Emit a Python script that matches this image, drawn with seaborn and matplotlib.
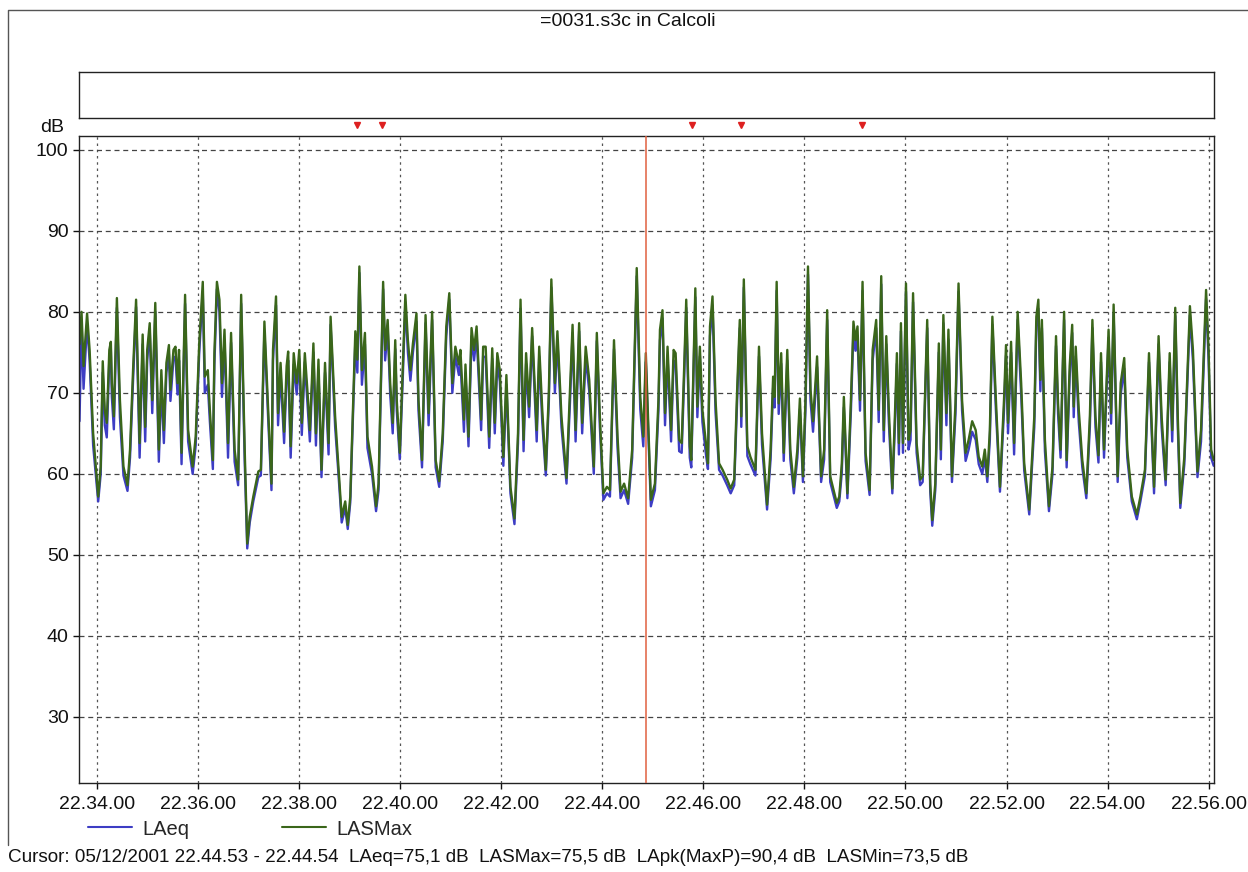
import matplotlib
matplotlib.use("Agg")
import matplotlib.pyplot as plt
import numpy as np
import pandas as pd
import seaborn as sns
from matplotlib.lines import Line2D

# ---------------- data (time in minutes after 22.34.00, levels in dB) ----------------
time_min = [
    -0.35, -0.31, -0.27, -0.20, -0.15, -0.08, 0.02, 0.07, 0.11, 0.15,
    0.19, 0.24, 0.27, 0.29, 0.33, 0.39, 0.45, 0.52, 0.60, 0.65,
    0.71, 0.77, 0.84, 0.90, 0.95, 0.99, 1.04, 1.09, 1.15, 1.22,
    1.27, 1.32, 1.37, 1.42, 1.45, 1.51, 1.55, 1.59, 1.62, 1.67,
    1.74, 1.80, 1.89, 1.95, 2.02, 2.09, 2.13, 2.19, 2.23, 2.29,
    2.32, 2.37, 2.42, 2.47, 2.52, 2.59, 2.65, 2.72, 2.79, 2.85,
    2.92, 2.97, 3.02, 3.09, 3.19, 3.24, 3.31, 3.39, 3.45,
    3.48, 3.54, 3.58, 3.63, 3.70, 3.75, 3.78, 3.83, 3.89,
    3.95, 4.00, 4.05, 4.11, 4.16, 4.21, 4.28, 4.33, 4.38, 4.44,
    4.51, 4.58, 4.62, 4.71, 4.77, 4.84, 4.91, 4.96, 5.01, 5.11,
    5.15, 5.19, 5.24, 5.30, 5.35, 5.44, 5.52, 5.57, 5.66, 5.70,
    5.75, 5.80, 5.85, 5.90, 5.93, 5.99, 6.05, 6.10, 6.15, 6.20,
    6.25, 6.32, 6.36, 6.43, 6.50, 6.56, 6.63, 6.70, 6.77, 6.84,
    6.91, 6.97, 7.03, 7.09, 7.16,
    7.19, 7.26, 7.29, 7.35, 7.41, 7.46, 7.51, 7.56, 7.60, 7.64,
    7.69, 7.76, 7.82, 7.87, 7.92, 7.97, 8.04, 8.10, 8.18, 8.26,
    8.33, 8.38, 8.44, 8.49, 8.55, 8.61, 8.70, 8.75, 8.81, 8.88,
    8.94, 8.99, 9.06, 9.11, 9.19, 9.29, 9.36, 9.41, 9.47, 9.54,
    9.60, 9.67, 9.74, 9.83, 9.89, 9.95, 10.02, 10.09, 10.15, 10.23,
    10.30, 10.36, 10.43, 10.51, 10.59, 10.68, 10.75, 10.81, 10.86,
    10.96, 11.04, 11.11, 11.14, 11.19, 11.24, 11.29, 11.36, 11.41, 11.45,
    11.52, 11.57, 11.62, 11.66, 11.73, 11.76, 11.84, 11.88, 11.93, 11.98,
    12.05, 12.09, 12.13, 12.18, 12.24, 12.31, 12.38, 12.47, 12.54, 12.61,
    12.67, 12.72, 12.75, 12.80, 12.87, 12.93, 13.03, 13.10, 13.16, 13.26,
    13.33, 13.38, 13.41, 13.45, 13.49, 13.54, 13.59, 13.66, 13.72, 13.79,
    13.86, 13.91, 13.97, 14.02, 14.07, 14.12, 14.17, 14.25, 14.33, 14.39,
    14.45, 14.51, 14.64,
    14.69, 14.74, 14.78, 14.82, 14.85, 14.92, 14.97, 15.01, 15.05, 15.10,
    15.15, 15.21, 15.29, 15.35, 15.42, 15.47, 15.52, 15.57, 15.62, 15.67,
    15.74, 15.79, 15.83, 15.87, 15.91, 15.95, 16.01, 16.06, 16.10, 16.15,
    16.22, 16.29, 16.34, 16.43, 16.49, 16.53, 16.59, 16.66, 16.70, 16.75,
    16.81, 16.85, 16.92, 16.99, 17.05, 17.12, 17.19, 17.25, 17.32, 17.39,
    17.45, 17.52, 17.57, 17.62, 17.67, 17.72, 17.79, 17.87, 17.95, 17.99,
    18.03, 18.09, 18.15, 18.22, 18.29, 18.35, 18.45,
    18.55, 18.59, 18.63, 18.67, 18.70, 18.76, 18.84, 18.91, 18.98, 19.02,
    19.07, 19.14, 19.19, 19.25, 19.30, 19.33, 19.37, 19.43, 19.50, 19.58,
    19.65, 19.70, 19.76, 19.82, 19.87, 19.93, 20.02, 20.07, 20.12, 20.20,
    20.26, 20.33, 20.39, 20.48, 20.58, 20.65, 20.74, 20.82, 20.92, 21.01,
    21.07, 21.15, 21.23, 21.28, 21.34, 21.39, 21.44, 21.52, 21.63, 21.69,
    21.78, 21.85, 21.95, 22.00, 22.05, 22.10,
]

las_max = [
    76.0, 80.0, 73.3, 79.8, 75.3, 65.0, 57.2, 60.9, 73.9, 67.9,
    66.3, 75.3, 76.3, 71.2, 67.1, 81.7, 69.1, 60.9, 58.6, 63.0,
    72.8, 81.5, 63.8, 77.2, 65.8, 75.3, 78.6, 69.1, 81.1, 63.0,
    72.8, 65.4, 73.7, 75.9, 70.4, 75.3, 75.7, 71.2, 75.3, 62.6,
    82.1, 65.4, 60.9, 64.6, 76.1, 83.7, 72.0, 72.8, 67.9, 61.7,
    74.9, 83.7, 81.5, 71.2, 77.8, 63.8, 77.4, 63.0, 59.3, 82.1,
    63.0, 51.4, 54.7, 57.2, 60.3, 60.5, 78.8, 67.1, 58.8,
    75.3, 81.9, 67.5, 73.7, 65.2, 73.3, 75.1, 63.4, 74.9,
    71.2, 75.3, 66.3, 74.9, 70.4, 65.4, 76.1, 65.0, 74.1, 60.5,
    73.7, 63.8, 79.4, 67.1, 61.3, 54.7, 56.6, 53.7, 57.2, 77.6,
    74.1, 85.6, 72.8, 77.4, 64.6, 60.9, 56.0, 58.8, 83.7, 75.3,
    79.0, 71.2, 66.3, 76.5, 69.1, 62.6, 73.3, 82.1, 76.5, 72.8,
    76.1, 79.8, 69.1, 61.7, 79.6, 67.5, 80.0, 61.7, 59.1, 65.0,
    78.2, 82.3, 71.2, 75.7, 73.5,
    75.3, 66.7, 73.5, 64.6, 78.0, 75.3, 78.2, 72.0, 66.7, 75.7,
    75.7, 64.6, 75.5, 66.3, 74.9, 72.8, 62.1, 72.2, 58.4, 54.5,
    65.0, 81.5, 64.2, 74.9, 68.3, 78.0, 65.4, 75.7, 67.9, 60.5,
    70.0, 84.0, 71.2, 77.6, 67.1, 59.5, 70.4, 78.4, 65.4, 78.6,
    66.3, 75.7, 71.6, 60.9, 77.4, 67.1, 57.6, 58.4, 58.0, 76.5,
    64.6, 57.8, 58.8, 57.0, 63.0, 85.4, 69.5, 64.6, 74.9,
    56.8, 58.8, 69.1, 77.8, 80.2, 67.5, 75.7, 65.4, 75.3, 74.9,
    64.2, 63.8, 73.3, 81.5, 63.4, 61.7, 82.9, 68.3, 75.7, 67.9,
    63.8, 61.3, 78.2, 81.9, 69.1, 61.3, 60.5, 59.3, 58.2, 59.3,
    70.8, 79.0, 67.1, 84.0, 63.4, 62.1, 60.5, 75.7, 65.0, 56.2,
    63.0, 72.0, 69.5, 83.7, 68.7, 74.9, 62.6, 75.3, 63.0, 58.4,
    63.0, 69.3, 59.7, 69.1, 85.6, 70.4, 66.5, 74.5, 59.7, 63.0,
    80.2, 59.7, 56.4,
    57.2, 61.3, 69.5, 63.0, 57.6, 69.1, 78.8, 76.5, 78.2, 69.1,
    83.7, 62.6, 58.0, 75.3, 79.0, 67.9, 84.4, 65.4, 77.0, 67.9,
    58.2, 67.1, 74.9, 63.8, 78.6, 63.8, 83.5, 64.2, 65.4, 82.3,
    63.8, 59.3, 59.7, 79.0, 58.8, 54.3, 58.8, 76.1, 63.0, 79.6,
    67.5, 77.8, 59.7, 68.7, 83.5, 69.1, 62.6, 64.2, 66.5, 65.4,
    62.1, 60.9, 63.0, 59.7, 65.4, 79.4, 69.1, 58.4, 69.1, 75.9,
    66.3, 76.3, 63.8, 80.0, 71.2, 61.3, 55.6,
    67.1, 79.4, 81.5, 71.6, 79.0, 64.2, 56.0, 60.9, 77.0, 68.7,
    63.0, 80.0, 61.7, 73.3, 78.4, 68.3, 75.7, 67.9, 61.7, 57.6,
    67.1, 79.0, 67.1, 62.3, 74.9, 63.0, 77.8, 67.5, 80.9, 59.7,
    71.2, 74.3, 63.0, 57.2, 55.0, 57.2, 60.5, 74.9, 58.4, 77.0,
    67.1, 59.3, 74.9, 65.4, 80.5, 67.1, 56.4, 62.1, 80.7, 75.3,
    60.3, 65.4, 82.7, 75.3, 63.0, 61.7,
]

la_eq = [
    66.5, 79.0, 70.5, 78.5, 74.0, 63.5, 56.6, 60.0, 72.5, 66.0,
    64.5, 74.0, 75.5, 69.5, 65.5, 80.5, 67.0, 59.8, 57.9, 62.0,
    71.5, 80.6, 62.0, 76.0, 64.0, 74.0, 77.8, 67.5, 80.0, 61.5,
    71.0, 63.8, 72.5, 74.8, 69.0, 74.2, 74.5, 69.8, 74.0, 61.2,
    81.0, 64.0, 60.0, 63.5, 75.0, 82.5, 70.0, 71.0, 66.5, 60.6,
    73.5, 82.8, 80.0, 69.5, 76.5, 62.0, 76.2, 61.5, 58.6, 81.0,
    61.5, 50.8, 54.0, 56.6, 59.6, 59.8, 77.6, 66.0, 58.0,
    74.0, 80.8, 66.0, 72.5, 63.8, 72.0, 74.0, 62.0, 73.5,
    69.8, 74.2, 64.8, 73.8, 69.0, 64.0, 75.0, 63.5, 72.8, 59.6,
    72.5, 62.4, 78.4, 65.8, 60.5, 54.0, 55.8, 53.2, 56.5, 76.4,
    72.5, 84.8, 71.0, 76.0, 63.2, 60.0, 55.4, 58.0, 82.8, 74.0,
    78.0, 69.8, 65.0, 75.4, 67.8, 61.8, 72.0, 81.2, 75.0, 71.5,
    75.0, 78.8, 67.8, 60.8, 78.6, 66.0, 79.0, 60.8, 58.4, 64.0,
    77.0, 81.5, 70.0, 74.5, 72.2,
    74.0, 65.2, 72.4, 63.4, 77.0, 74.0, 77.2, 70.6, 65.4, 74.5,
    74.4, 63.2, 74.2, 65.0, 73.8, 71.4, 61.0, 71.0, 57.6, 53.8,
    63.8, 80.4, 62.8, 73.6, 67.0, 77.0, 64.0, 74.5, 66.4, 59.8,
    68.8, 83.0, 70.0, 76.5, 65.8, 58.8, 69.0, 77.4, 64.0, 77.6,
    65.0, 74.5, 70.2, 60.0, 76.4, 65.8, 56.8, 57.6, 57.2, 75.4,
    63.2, 57.0, 58.0, 56.3, 62.0, 84.4, 68.0, 63.4, 73.8,
    56.0, 58.0, 67.8, 76.5, 79.2, 66.0, 74.5, 64.0, 74.0, 73.6,
    62.8, 62.6, 72.0, 80.5, 62.0, 60.8, 81.8, 67.0, 74.5, 66.4,
    62.4, 60.6, 77.0, 80.8, 67.6, 60.5, 59.8, 58.6, 57.6, 58.6,
    69.4, 78.0, 65.8, 83.0, 62.2, 61.2, 59.8, 74.5, 63.6, 55.6,
    61.8, 70.6, 68.2, 82.6, 67.4, 73.6, 61.6, 74.0, 61.8, 57.6,
    62.0, 68.0, 59.0, 67.8, 84.6, 69.0, 65.2, 73.2, 59.0, 61.8,
    79.0, 59.0, 55.8,
    56.6, 60.2, 68.2, 62.0, 57.0, 67.8, 77.6, 75.2, 77.0, 67.8,
    82.6, 61.6, 57.4, 74.0, 78.0, 66.4, 83.4, 64.0, 76.0, 66.4,
    57.6, 65.8, 73.6, 62.4, 77.6, 62.6, 82.5, 63.0, 64.2, 81.2,
    62.6, 58.6, 59.0, 78.0, 57.8, 53.6, 58.0, 75.0, 61.8, 78.6,
    66.0, 76.6, 59.0, 67.4, 82.5, 67.8, 61.6, 63.0, 65.2, 64.2,
    61.2, 60.0, 62.0, 59.0, 64.2, 78.4, 67.8, 57.8, 67.8, 74.6,
    65.0, 75.0, 62.4, 79.0, 69.8, 60.4, 55.0,
    65.8, 78.2, 80.4, 70.2, 78.0, 62.8, 55.4, 60.0, 75.8, 67.4,
    62.0, 79.0, 60.8, 72.0, 77.4, 67.0, 74.5, 66.4, 60.8, 57.0,
    65.8, 78.0, 65.8, 61.4, 73.8, 62.0, 76.8, 66.2, 79.8, 59.0,
    69.8, 73.0, 62.0, 56.6, 54.4, 56.6, 59.8, 73.8, 57.6, 76.0,
    65.8, 58.6, 73.8, 64.0, 79.5, 65.8, 55.8, 61.2, 79.6, 74.0,
    59.6, 64.0, 81.6, 74.0, 62.0, 61.0,
]

series_names = ["LAeq", "LASMax"]
tick_minutes = [0, 2, 4, 6, 8, 10, 12, 14, 16, 18, 20, 22]
tick_labels = ["22.34.00", "22.36.00", "22.38.00", "22.40.00", "22.42.00", "22.44.00",
               "22.46.00", "22.48.00", "22.50.00", "22.52.00", "22.54.00", "22.56.00"]
y_ticks = [30, 40, 50, 60, 70, 80, 90, 100]
event_minutes = [5.15, 5.63, 11.78, 12.75, 15.14]
cursor_minute = 10.87
title_text = "=0031.s3c in Calcoli"
cursor_text = ("Cursor: 05/12/2001 22.44.53 - 22.44.54  LAeq=75,1 dB  LASMax=75,5 dB  "
               "LApk(MaxP)=90,4 dB  LASMin=73,5 dB")

# ---------------- figure ----------------
sns.set_theme(style="white")
plt.rcParams["font.family"] = ["Liberation Sans", "DejaVu Sans"]

W, H = 1248, 872
fig = plt.figure(figsize=(W / 100, H / 100), dpi=100)
fig.patch.set_facecolor("white")

colors = {"LAeq": "#3d3dc4", "LASMax": "#3a661a"}

ax = fig.add_axes([79 / W, 1 - 783 / H, (1214 - 79) / W, (783 - 136) / H])
ax.set_facecolor("white")

n = len(time_min)
df = pd.DataFrame({
    "t": time_min + time_min,
    "v": la_eq + las_max,
    "series": ["LAeq"] * n + ["LASMax"] * n,
})
sns.lineplot(data=df, x="t", y="v", hue="series", hue_order=series_names,
             palette=colors, estimator=None, sort=False, linewidth=1.7,
             legend=False, ax=ax)

ax.set_xlim(-0.36, 22.107)
ax.set_ylim(21.85, 101.7)
ax.set_xticks(tick_minutes)
ax.set_xticklabels(tick_labels)
ax.set_yticks(y_ticks)
ax.set_xlabel("")
ax.set_ylabel("")
ax.xaxis.grid(True, color="#555555", linestyle=(0, (2, 3)), linewidth=0.9)
ax.yaxis.grid(True, color="#444444", linestyle=(0, (4, 3)), linewidth=0.9)
ax.set_axisbelow(True)
for s in ax.spines.values():
    s.set_color("#222222")
    s.set_linewidth(1.0)
ax.tick_params(axis="both", labelsize=14, length=4, width=1, direction="out",
               colors="#111111", bottom=True, left=True)
ax.tick_params(axis="x", pad=5)

# cursor line
ax.axvline(cursor_minute, color="#e06040", linewidth=1.1, zorder=3)

# event markers above plot area
ax.plot(event_minutes, [1.017] * len(event_minutes), linestyle="none", marker="v",
        color="#dd2020", markersize=5, transform=ax.get_xaxis_transform(), clip_on=False)

# empty event bar above
ax_top = fig.add_axes([79 / W, 1 - 118 / H, (1214 - 79) / W, 46 / H])
ax_top.set_xticks([])
ax_top.set_yticks([])
ax_top.set_facecolor("white")
for s in ax_top.spines.values():
    s.set_color("#222222")
    s.set_linewidth(1.0)

# texts
fig.text(628 / W, 1 - 22 / H, title_text, ha="center", va="center", fontsize=14, color="#111111")
fig.text(40 / W, 1 - 128 / H, "dB", ha="left", va="center", fontsize=14, color="#111111")
fig.text(8 / W, 1 - 857 / H, cursor_text, ha="left", va="center", fontsize=13.6, color="#111111")

# legend
handles = [Line2D([], [], color=colors[s], linewidth=1.5) for s in series_names]
fig.legend(handles, series_names, loc="center left", bbox_to_anchor=(88 / W, 1 - 829 / H),
           ncol=2, frameon=False, fontsize=14.5, handlelength=2.2, handletextpad=0.5,
           columnspacing=4.6, borderaxespad=0, borderpad=0)

# outer frame (left and top edges)
fig.add_artist(Line2D([8 / W, 8 / W, 1.0], [1 - 845 / H, 1 - 10 / H, 1 - 10 / H],
                      transform=fig.transFigure, color="#555555", linewidth=1.0))

fig.savefig("out.png", dpi=100)
